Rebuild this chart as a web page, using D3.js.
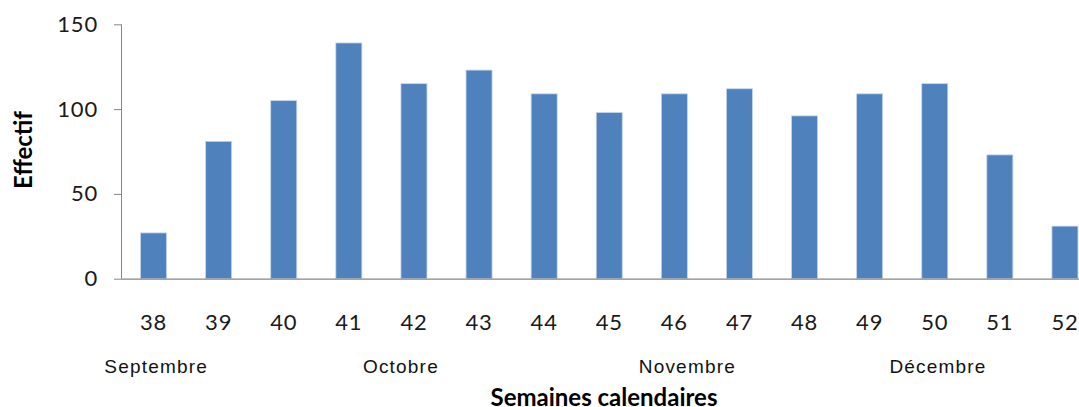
<!DOCTYPE html>
<html>
<head>
<meta charset="utf-8">
<script src="https://cdn.jsdelivr.net/npm/d3@7"></script>
<style>
  html, body { margin: 0; padding: 0; background: #fff; }
  svg { display: block; overflow: hidden; }
</style>
</head>
<body>
<svg id="chart"></svg>
<script>
  // Effectif par semaine calendaire

  var WEEKS = ['38', '39', '40', '41', '42', '43', '44', '45', '46', '47', '48', '49', '50', '51', '52'];
  var EFFECTIF = [27, 81, 105, 139, 115, 123, 109, 98, 109, 112, 96, 109, 115, 73, 31];
  var Y_TICKS = [0, 50, 100, 150];
  var MONTHS = ['Septembre', 'Octobre', 'Novembre', 'Décembre'];
  var MONTH_AT_WEEK = [38.04, 41.8, 46.2, 50.05];

  (function () {
    var width = 1079;
    var height = 407;
    var svg = d3.select('#chart').attr('width', width).attr('height', height);

    var plotLeft = 121, plotTop = 24.3, plotBottom = 278.7;
    var step = 65.1;

    var x = d3.scaleBand()
      .domain(WEEKS)
      .range([plotLeft, plotLeft + step * WEEKS.length])
      .paddingInner(0.6)
      .paddingOuter(0.3);

    var y = d3.scaleLinear().domain([0, 150]).range([plotBottom, plotTop]);

    // position continue pour les mois (semaine fractionnaire)
    var weekPos = d3.scaleLinear()
      .domain([38, 52])
      .range([x('38') + x.bandwidth() / 2, x('52') + x.bandwidth() / 2]);

    // barres
    svg.append('g')
      .selectAll('rect')
      .data(EFFECTIF)
      .join('rect')
      .attr('x', function (d, i) { return x(WEEKS[i]); })
      .attr('y', function (d) { return y(d); })
      .attr('width', x.bandwidth())
      .attr('height', function (d) { return y(0) - y(d); })
      .attr('fill', '#4f81bd')
      .attr('stroke', '#c6d6ea')
      .attr('stroke-width', 0.8);

    // axe Y
    var yAxis = svg.append('g')
      .attr('transform', 'translate(' + plotLeft + ',0)')
      .call(d3.axisLeft(y).tickValues(Y_TICKS).tickSize(7).tickPadding(16).tickFormat(d3.format('d')));
    yAxis.select('.domain').attr('stroke', '#868686').attr('d', 'M0.5,' + plotTop + 'V' + plotBottom);
    yAxis.selectAll('.tick line').attr('stroke', '#868686');
    yAxis.selectAll('.tick text')
      .attr('fill', '#1a1a1a')
      .style('font-family', 'Lato, "Open Sans", sans-serif')
      .style('font-size', '22px')
      .style('letter-spacing', '0.8px');

    // ligne de base
    svg.append('line')
      .attr('x1', plotLeft).attr('x2', width)
      .attr('y1', y(0) + 0.5).attr('y2', y(0) + 0.5)
      .attr('stroke', '#868686')
      .attr('stroke-width', 1.3);

    // étiquettes des semaines
    svg.append('g')
      .selectAll('text')
      .data(WEEKS)
      .join('text')
      .text(function (d) { return d; })
      .attr('x', function (d) { return x(d) + x.bandwidth() / 2; })
      .attr('y', 330)
      .attr('text-anchor', 'middle')
      .attr('fill', '#1a1a1a')
      .style('font-family', 'Lato, "Open Sans", sans-serif')
      .style('font-size', '22px')
      .style('letter-spacing', '0.8px');

    // mois
    svg.append('g')
      .selectAll('text')
      .data(MONTHS)
      .join('text')
      .text(function (d) { return d; })
      .attr('x', function (d, i) { return weekPos(MONTH_AT_WEEK[i]); })
      .attr('y', 373.3)
      .attr('text-anchor', 'middle')
      .attr('fill', '#111')
      .style('font-family', '"Liberation Sans", Arial, sans-serif')
      .style('font-size', '19px')
      .style('letter-spacing', '1.2px');

    // titres des axes
    svg.append('text')
      .text('Semaines calendaires')
      .attr('x', 604)
      .attr('y', 406)
      .attr('text-anchor', 'middle')
      .attr('fill', '#000')
      .style('font-family', 'Lato, sans-serif')
      .style('font-weight', 'bold')
      .style('font-size', '24px');

    svg.append('text')
      .text('Effectif')
      .attr('transform', 'translate(31.5,150) rotate(-90)')
      .attr('text-anchor', 'middle')
      .attr('fill', '#000')
      .style('font-family', 'Lato, sans-serif')
      .style('font-weight', 'bold')
      .style('font-size', '24px');
  })();
</script>
</body>
</html>
